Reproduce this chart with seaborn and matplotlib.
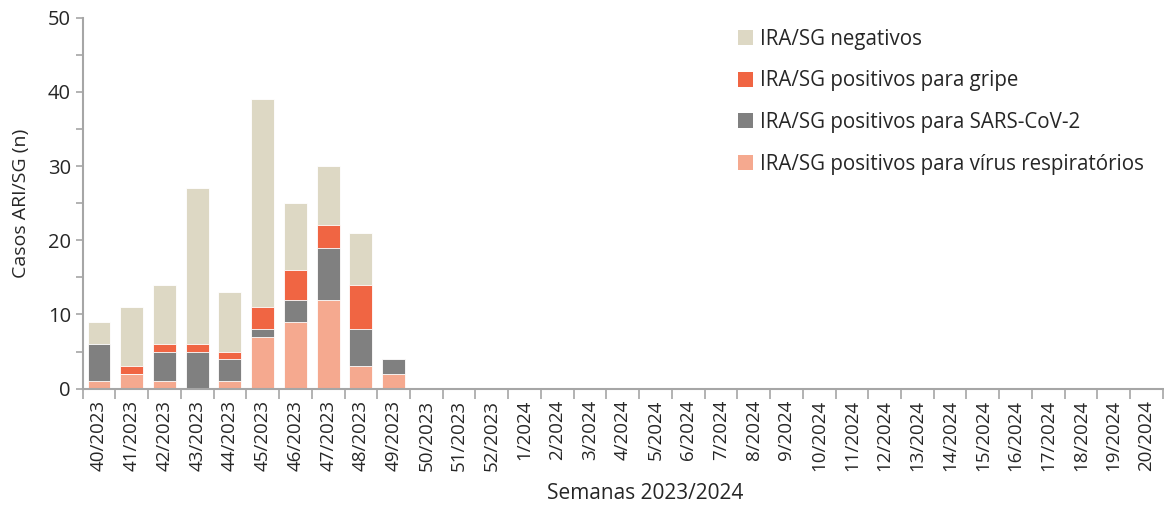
import matplotlib
matplotlib.use("Agg")
import matplotlib.pyplot as plt
import seaborn as sns
import numpy as np
import pandas as pd
from matplotlib.patches import Patch

weeks = [f"{w}/2023" for w in range(40, 53)] + [f"{w}/2024" for w in range(1, 21)]
resp =   [1, 2, 1, 0, 1, 7, 9, 12, 3, 2] + [0] * 23
sars =   [5, 0, 4, 5, 3, 1, 3, 7, 5, 2] + [0] * 23
gripe =  [0, 1, 1, 1, 1, 3, 4, 3, 6, 0] + [0] * 23
neg =    [3, 8, 8, 21, 8, 28, 9, 8, 7, 0] + [0] * 23

labels = ["IRA/SG negativos", "IRA/SG positivos para gripe",
          "IRA/SG positivos para SARS-CoV-2", "IRA/SG positivos para vírus respiratórios"]
colors = ["#DDD8C4", "#F06543", "#808080", "#F5A98F"]

sns.set_style("white")
plt.rcParams['font.family'] = ['Open Sans', 'DejaVu Sans']

df = pd.DataFrame({"week": weeks, "resp": resp, "sars": sars, "gripe": gripe, "neg": neg})
c1 = df["resp"]
c2 = c1 + df["sars"]
c3 = c2 + df["gripe"]
c4 = c3 + df["neg"]

fig, ax = plt.subplots(figsize=(11.64, 5.08), dpi=100)
fig.subplots_adjust(left=0.071, right=0.999, top=0.965, bottom=0.235)

for vals, col in zip([c4, c3, c2, c1], colors):
    sns.barplot(x=df["week"], y=vals, color=col, width=0.7, ax=ax,
                edgecolor="white", linewidth=0.6, saturation=1)

ax.set_ylim(0, 50)
ax.set_xlim(-0.5, len(weeks) - 0.5)
ax.set_yticks(range(0, 51, 10))
ax.set_yticks(range(5, 50, 10), minor=True)
ax.tick_params(axis='y', which='both', labelsize=14.5, length=5, color="#A6A6A6", width=1.2,
               direction="out", left=True)
ax.tick_params(axis='x', labelsize=13.5, length=0, rotation=90, pad=8)
ax.set_xticks(np.arange(-0.5, len(weeks), 1), minor=True)
ax.tick_params(axis='x', which='minor', length=7, color="#A6A6A6", width=1.2, bottom=True)
for s in ["top", "right"]:
    ax.spines[s].set_visible(False)
for s in ["left", "bottom"]:
    ax.spines[s].set_color("#A6A6A6")
    ax.spines[s].set_linewidth(1.5)

ax.set_xlabel("Semanas 2023/2024", fontsize=15)
ax.xaxis.set_label_coords(0.521, -0.255)
ax.set_ylabel("Casos ARI/SG (n)", fontsize=14, labelpad=13)

handles = [Patch(facecolor=c, edgecolor="none") for c in colors]
ax.legend(handles, labels, loc="upper right", bbox_to_anchor=(1.0, 1.02), frameon=False,
          fontsize=14.8, handlelength=0.75, handleheight=0.75, handletextpad=0.35,
          labelspacing=1.0)

fig.savefig("out.png", dpi=100)
